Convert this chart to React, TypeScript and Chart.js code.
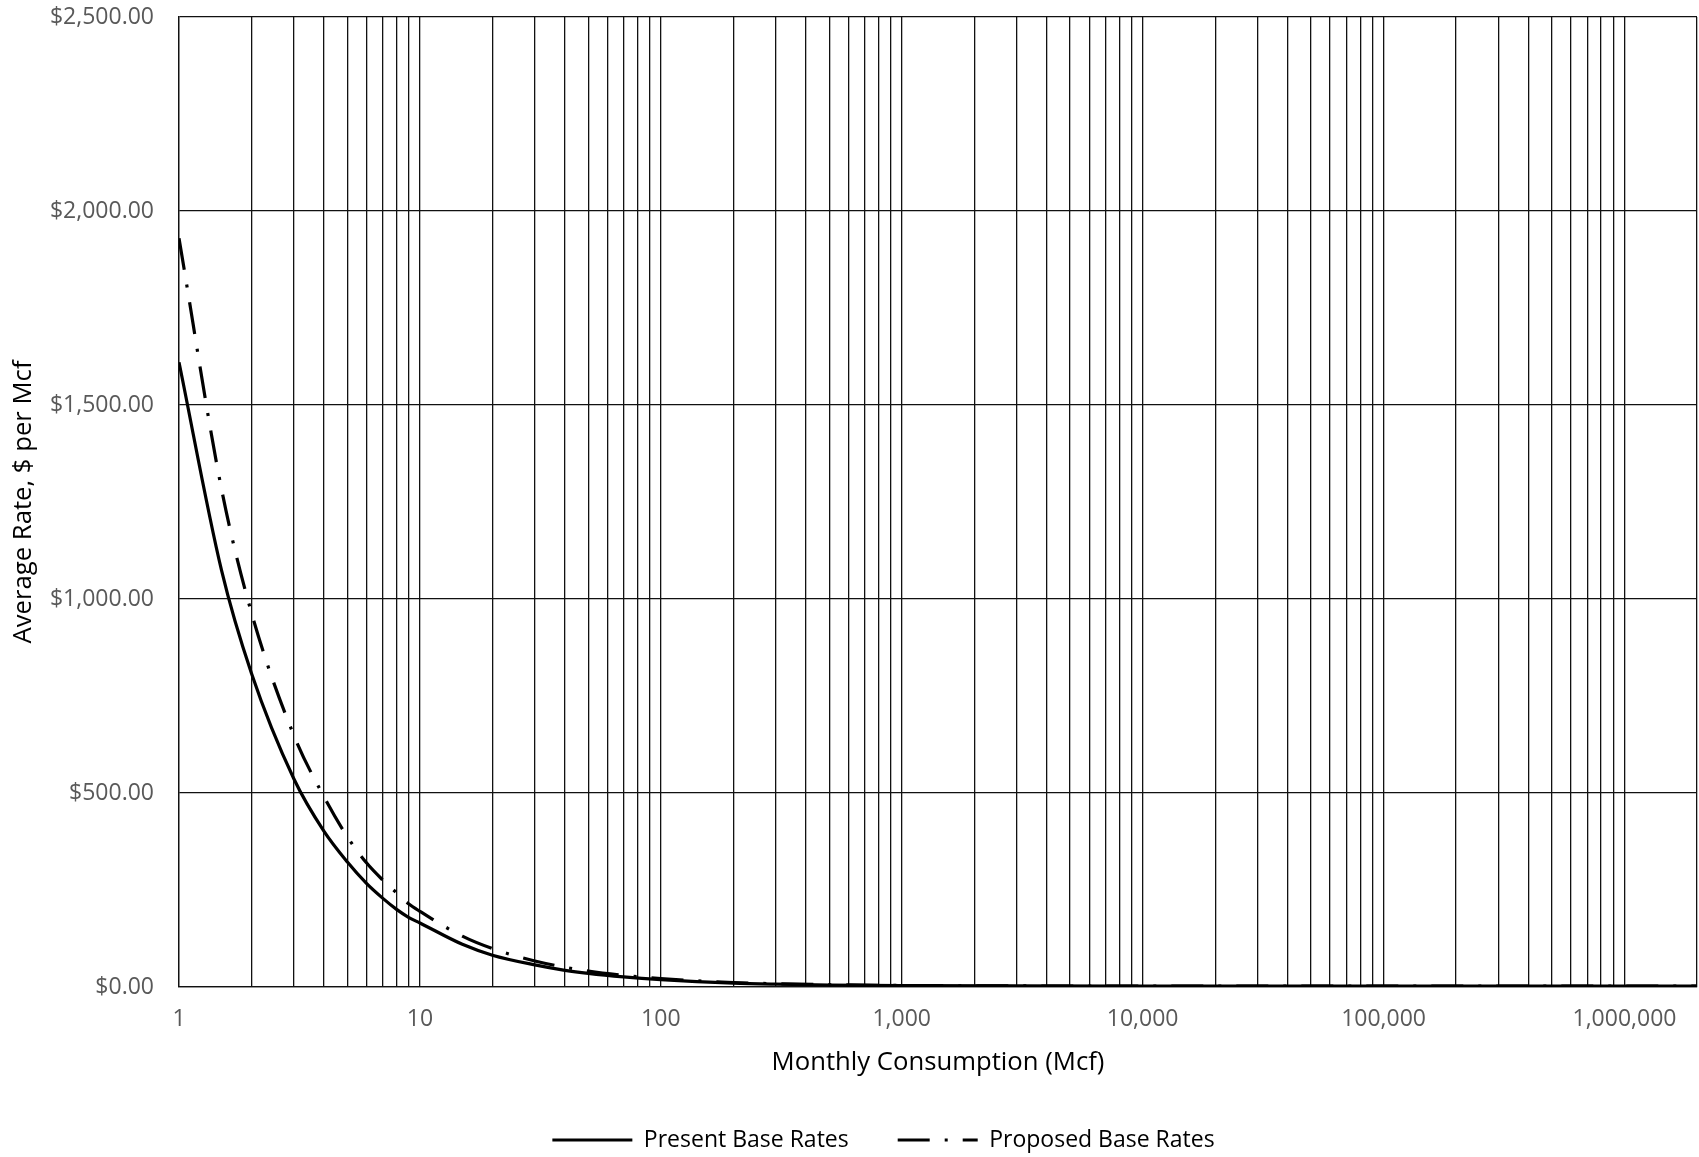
import React, { useEffect, useRef } from "react";
import { Chart, registerables } from "chart.js";

Chart.register(...registerables);

// Monthly consumption in Mcf and the average rate ($ per Mcf) at each volume
const CONSUMPTION = [1, 1.5, 2, 3, 4, 5, 6, 7, 8, 9, 10, 15, 20, 30, 40, 50, 70, 100, 200, 300, 500, 1000, 10000, 100000, 1000000, 2000000];
const PRESENT_RATES = [1610, 1075, 808, 536, 401, 322, 267, 229, 200, 179, 165, 110, 82, 57, 43, 35, 26, 19, 10, 7.3, 5.2, 3.6, 2.2, 2.0, 2.0, 2.0];
const PROPOSED_RATES = [1930, 1285, 964, 648, 490, 387, 320, 276, 243, 214, 195, 131, 99, 67, 51, 41, 30, 21.5, 11.6, 8.4, 5.9, 3.9, 2.4, 2.2, 2.1, 2.1];

const SERIES_NAMES = ["Present Base Rates", "Proposed Base Rates"];

// Axis ticks
const X_DECADES = [1, 10, 100, 1000, 10000, 100000, 1000000];
const X_TICK_LABELS = ["1", "10", "100", "1,000", "10,000", "100,000", "1,000,000"];
const X_MINOR_STEPS = [1, 2, 3, 4, 5, 6, 7, 8, 9];
const X_MIN = 1;
const X_MAX = 2000000;
const Y_TICKS = [0, 500, 1000, 1500, 2000, 2500];
const Y_TICK_LABELS = ["$0.00", "$500.00", "$1,000.00", "$1,500.00", "$2,000.00", "$2,500.00"];

const X_TITLE = "Monthly Consumption (Mcf)";
const Y_TITLE = "Average Rate, $ per Mcf";

const FONT = "'Open Sans', 'DejaVu Sans', sans-serif";
const GRID_COLOR = "#111111";
const TICK_COLOR = "#595959";
const LINE_WIDTH = 3.2;
const PROPOSED_DASH = [32, 15, 3, 15];

// Every 1..9 multiple of each decade gets a vertical grid line
const xGridValues = (): number[] => {
  const vals: number[] = [];
  X_DECADES.forEach((d) => {
    X_MINOR_STEPS.forEach((m) => {
      const v = d * m;
      if (v <= X_MAX) vals.push(v);
    });
  });
  if (!vals.includes(X_MAX)) vals.push(X_MAX);
  return vals;
};

// Nudges the bottom legend sideways
const legendShift = {
  id: "legendShift",
  afterLayout(chart: any, _args: any, opts: any) {
    const lg = chart.legend;
    if (lg && opts && opts.dx) {
      lg.left += opts.dx;
      lg.right += opts.dx;
    }
  },
};

export default function App() {
  const canvasRef = useRef<HTMLCanvasElement | null>(null);

  useEffect(() => {
    if (!canvasRef.current) return;
    const toPoints = (ys: number[]) => CONSUMPTION.map((x, i) => ({ x, y: ys[i] }));

    const chart = new Chart(canvasRef.current, {
      type: "line",
      data: {
        datasets: [
          {
            label: SERIES_NAMES[0],
            data: toPoints(PRESENT_RATES),
            borderColor: "#000000",
            backgroundColor: "#000000",
            borderWidth: LINE_WIDTH,
            pointRadius: 0,
            cubicInterpolationMode: "monotone",
            fill: false,
          },
          {
            label: SERIES_NAMES[1],
            data: toPoints(PROPOSED_RATES),
            borderColor: "#000000",
            backgroundColor: "#000000",
            borderWidth: LINE_WIDTH,
            borderDash: PROPOSED_DASH,
            borderCapStyle: "butt",
            pointRadius: 0,
            cubicInterpolationMode: "monotone",
            fill: false,
          },
        ],
      },
      options: {
        animation: false,
        responsive: false,
        devicePixelRatio: 1,
        layout: { padding: { top: 17, right: 2, bottom: -4.5, left: 0 } },
        font: { family: FONT },
        scales: {
          x: {
            type: "logarithmic",
            min: X_MIN,
            max: X_MAX,
            afterBuildTicks: (scale: any) => {
              scale.ticks = xGridValues().map((v) => ({ value: v }));
            },
            afterFit: (scale: any) => {
              scale.height = 92.5;
              scale.paddingLeft = 0;
              scale.paddingRight = 0;
            },
            grid: { color: GRID_COLOR, lineWidth: 1.3, drawTicks: false },
            border: { color: GRID_COLOR, width: 1.3 },
            ticks: {
              autoSkip: false,
              maxRotation: 0,
              padding: 19,
              color: TICK_COLOR,
              font: { family: FONT, size: 23 },
              callback: (value: any) => {
                const idx = X_DECADES.indexOf(Number(value));
                return idx >= 0 ? X_TICK_LABELS[idx] : "";
              },
            },
            title: {
              display: true,
              text: X_TITLE,
              color: "#000000",
              font: { family: FONT, size: 25.7 },
              padding: { top: 0, bottom: 1 },
            },
          },
          y: {
            type: "linear",
            min: Y_TICKS[0],
            max: Y_TICKS[Y_TICKS.length - 1],
            afterBuildTicks: (scale: any) => {
              scale.ticks = Y_TICKS.map((v) => ({ value: v }));
            },
            afterFit: (scale: any) => {
              scale.width = 179;
              scale.paddingTop = 0;
              scale.paddingBottom = 0;
            },
            grid: { color: GRID_COLOR, lineWidth: 1.3, drawTicks: false },
            border: { color: GRID_COLOR, width: 1.3 },
            ticks: {
              padding: 25,
              color: TICK_COLOR,
              font: { family: FONT, size: 23 },
              callback: (value: any) => {
                const idx = Y_TICKS.indexOf(Number(value));
                return idx >= 0 ? Y_TICK_LABELS[idx] : "";
              },
            },
            title: {
              display: true,
              text: Y_TITLE,
              color: "#000000",
              font: { family: FONT, size: 25.7 },
              padding: { top: 8.5, bottom: 0 },
            },
          },
        },
        plugins: {
          legend: {
            position: "bottom",
            labels: {
              usePointStyle: true,
              pointStyle: "line",
              pointStyleWidth: 80,
              padding: 49,
              color: "#000000",
              font: { family: FONT, size: 23 },
              generateLabels: (c: any) => {
                const items = Chart.defaults.plugins.legend.labels.generateLabels(c);
                items.forEach((it: any, i: number) => {
                  const ds: any = c.data.datasets[i];
                  it.lineDash = ds.borderDash || [];
                  it.lineDashOffset = 0;
                  it.lineWidth = LINE_WIDTH;
                  it.lineCap = "butt";
                });
                return items;
              },
            },
          },
          tooltip: { enabled: false },
          legendShift: { dx: 35 },
        } as any,
      },
      plugins: [legendShift],
    } as any);

    return () => chart.destroy();
  }, []);

  return (
    <div style={{ position: "fixed", left: 0, top: 0, width: 1699, height: 1157, background: "#ffffff" }}>
      <canvas ref={canvasRef} width={1699} height={1157} />
    </div>
  );
}
